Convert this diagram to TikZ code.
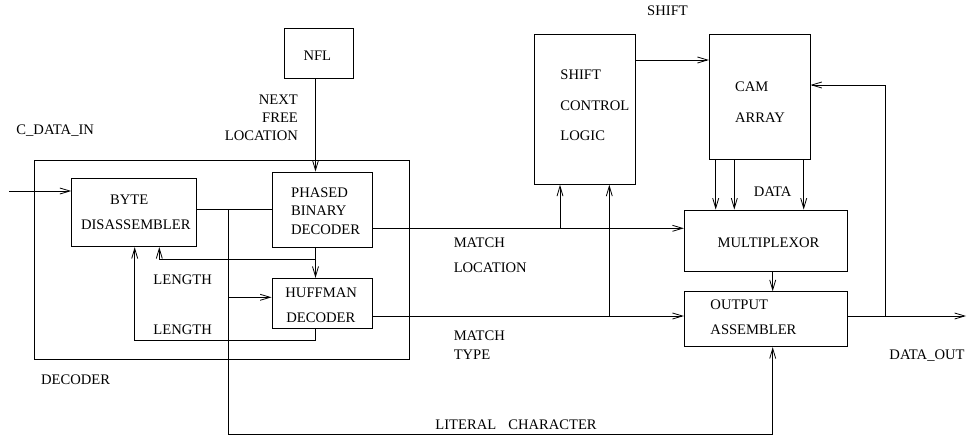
\documentclass[tikz,border=0pt]{standalone}
\usepackage{fontspec}
\setmainfont{Liberation Serif}
\usetikzlibrary{arrows.meta}
\begin{document}
\begin{tikzpicture}[x=1pt,y=-1pt,
  line width=0.9pt,
  blk/.style={draw,rectangle,inner sep=0pt,minimum width=#1},
  arr/.style={-{Straight Barb[length=10pt,width=6pt,line width=0.8pt]}},
  lbl/.style={inner sep=0pt,text height=9.6pt,text depth=0pt,font=\fontsize{14.6}{17}\selectfont},
  lw/.style={lbl,anchor=west},
  le/.style={lbl,anchor=east},
  lc/.style={lbl,anchor=center}]
\useasboundingbox (0,0) rectangle (968,436);

% ---- blocks ----
\node[blk=375.2pt,minimum height=199.3pt] (dec) at (221.9,259.65) {};
\node[blk=125pt,minimum height=68pt]   (byte) at (134.2,212.7) {};
\node[blk=100pt,minimum height=75pt]   (pbd)  at (322,209.5) {};
\node[blk=100pt,minimum height=50pt]   (huf)  at (322,303.3) {};
\node[blk=69pt,minimum height=50pt]    (nfl)  at (318.8,53.3) {};
\node[blk=100.7pt,minimum height=150pt] (scl) at (584.65,109.3) {};
\node[blk=100.7pt,minimum height=125.4pt] (cam) at (759.65,97) {};
\node[blk=163pt,minimum height=61.7pt] (mux)  at (765.8,240.85) {};
\node[blk=163pt,minimum height=55pt]   (oa)   at (765.8,319.2) {};

% ---- routing points ----
\coordinate (cin) at (9.3,191);
\coordinate (j1)  at (228.7,209);
\coordinate (j2)  at (228.7,297.3);
\coordinate (cx)  at (315.5,0);
\coordinate (j3)  at (315.5,259.3);
\coordinate (l1)  at (159.3,259.3);
\coordinate (l2)  at (134.7,340);
\coordinate (lit) at (772.7,434.5);
\coordinate (ml)  at (560,228.3);
\coordinate (mt)  at (609.3,316);
\coordinate (fb)  at (885,316);
\coordinate (fbt) at (885,85);
\coordinate (dout) at (966,316);
\coordinate (sh)  at (0,60);

% ---- connectors ----
\draw[arr] (cin) -- (cin -| byte.west);
\draw (byte.east |- j1) -- (pbd.west |- j1);
\draw[arr] (j1) |- (lit) -- (lit |- oa.south);
\draw[arr] (j2) -- (j2 -| huf.west);
\draw[arr] (nfl.south -| cx) -- (pbd.north -| cx);
\draw[arr] (pbd.south -| cx) -- (huf.north -| cx);
\draw[arr] (j3) -- (l1) -- (l1 |- byte.south);
\draw[arr] (huf.south -| cx) |- (l2) -- (l2 |- byte.south);
\draw[arr] (pbd.east |- ml) -- (mux.west |- ml);
\draw[arr] (ml) -- (ml |- scl.south);
\draw[arr] (huf.east |- mt) -- (oa.west |- mt);
\draw[arr] (mt) -- (mt |- scl.south);
\draw[arr] (scl.east |- sh) -- (cam.west |- sh);
\foreach \xx in {715.7,734.3,803.7}
  \draw[arr] (cam.south -| \xx,0) -- (mux.north -| \xx,0);
\draw[arr] (mux.south -| lit) -- (oa.north -| lit);
\draw[arr] (oa.east |- dout) -- (dout);
\draw[arr] (fb) -- (fbt) -- (cam.east |- fbt);

% ---- labels ----
\node[lw] (tcin) at (16,130) {C\_DATA\_IN};
\node[le] (tnx1) at (298.3,99.3) {NEXT};
\node[le] (tnx2) at (298.3,117.6) {FREE};
\node[le] (tnx3) at (298.3,136) {LOCATION};
\node[lc] (tnfl) at (317.3,56) {NFL};
\node[lc] (tby1) at (129.2,199.3) {BYTE};
\node[lc] (tby2) at (135.8,224.3) {DISASSEMBLER};
\node[lw] (tpb1) at (290.7,192.3) {PHASED};
\node[lw] (tpb2) at (290.7,211) {BINARY};
\node[lw] (tpb3) at (290.7,230) {DECODER};
\node[lw] (thu1) at (285,292.3) {HUFFMAN};
\node[lw] (thu2) at (286,317.3) {DECODER};
\node[lw] (tln1) at (153,280) {LENGTH};
\node[lw] (tln2) at (153,330) {LENGTH};
\node[lw] (tdec) at (40.7,380) {DECODER};
\node[lc] (tsh)  at (667.5,11) {SHIFT};
\node[lw] (tsc1) at (560,74.3) {SHIFT};
\node[lw] (tsc2) at (560,105.7) {CONTROL};
\node[lw] (tsc3) at (560,136) {LOGIC};
\node[lw] (tcm1) at (734.7,86.3) {CAM};
\node[lw] (tcm2) at (734.7,117.3) {ARRAY};
\node[lw] (tdat) at (753.3,192) {DATA};
\node[lc] (tmux) at (768.5,242.3) {MULTIPLEXOR};
\node[lw] (toa1) at (710,305) {OUTPUT};
\node[lw] (toa2) at (710,330) {ASSEMBLER};
\node[lw] (tml1) at (453.3,242.3) {MATCH};
\node[lw] (tml2) at (453.3,267.3) {LOCATION};
\node[lw] (tmt1) at (453.3,335.7) {MATCH};
\node[lw] (tmt2) at (453.3,355) {TYPE};
\node[lw] (tlit) at (435,424.3) {LITERAL\hspace{12pt}CHARACTER};
\node[le] (tout) at (965,355) {DATA\_OUT};
\end{tikzpicture}
\end{document}
